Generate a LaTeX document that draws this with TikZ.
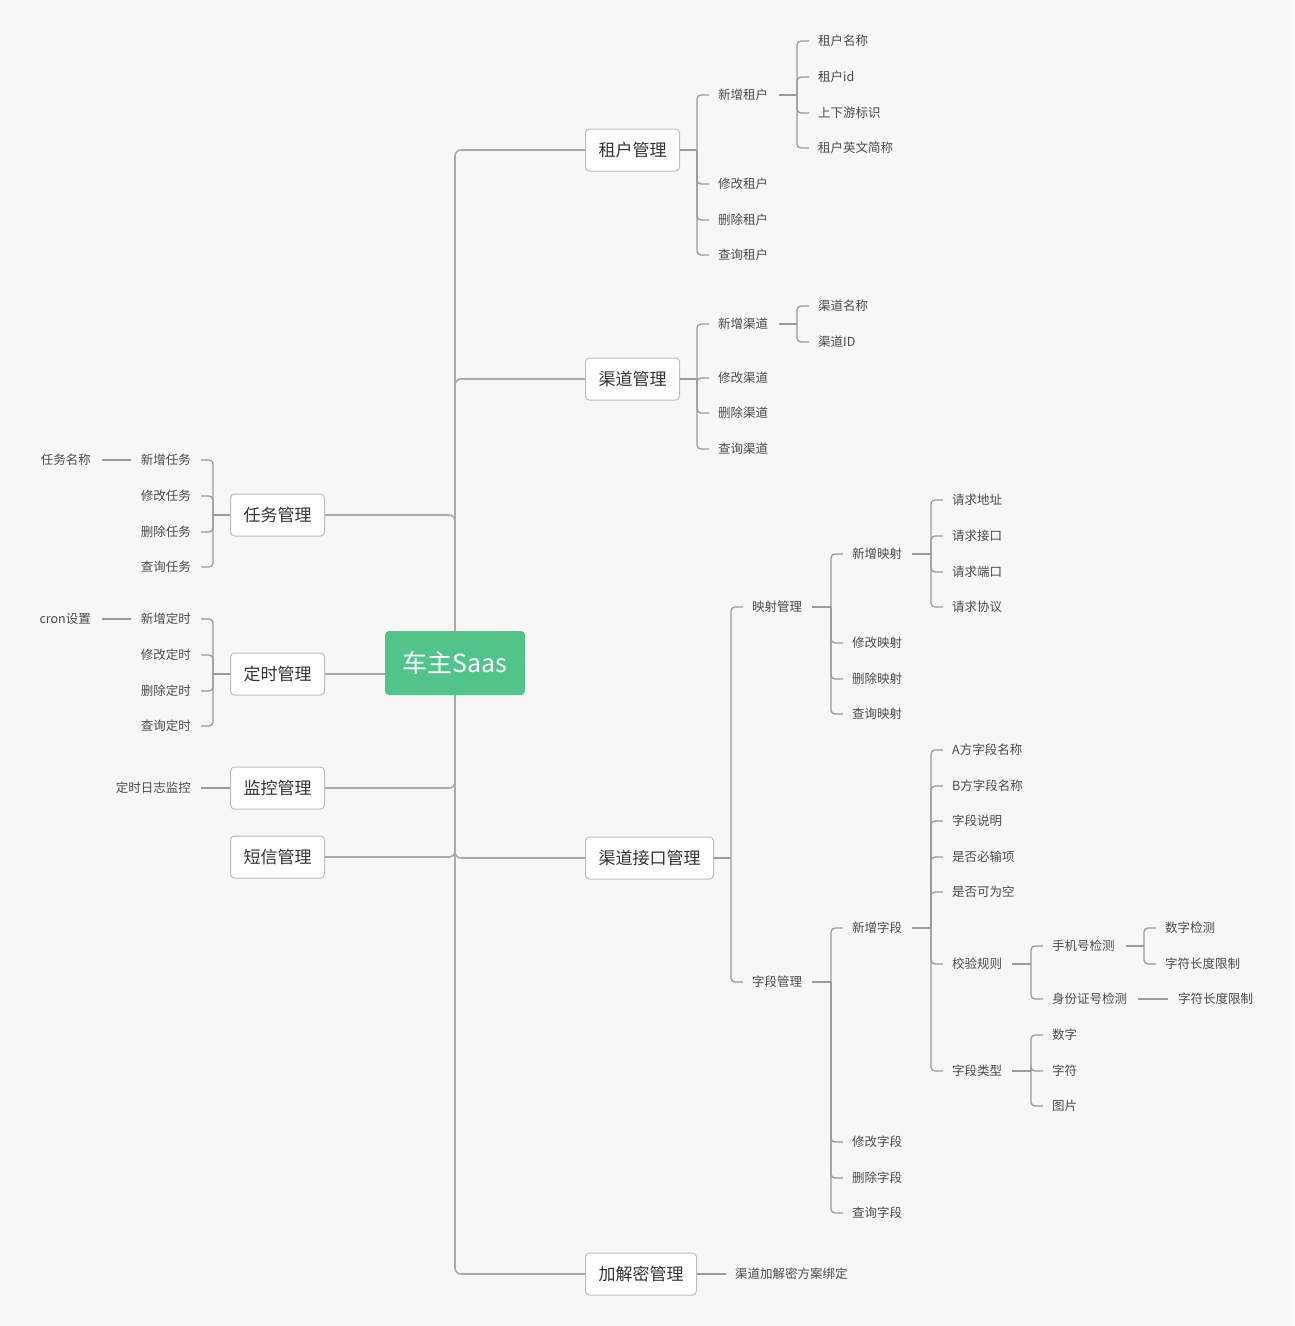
\documentclass[tikz,border=0pt]{standalone}
\usepackage{fontspec}
\setmainfont{Noto Sans CJK SC}
\usetikzlibrary{calc}
\definecolor{bgc}{HTML}{F7F7F7}
\definecolor{trunkc}{HTML}{AAAAAA}
\definecolor{linec}{HTML}{9A9A9A}
\definecolor{boxc}{HTML}{BEBEBE}
\definecolor{boxtext}{HTML}{333333}
\definecolor{leaftext}{HTML}{4A4A4A}
\definecolor{greenc}{HTML}{52C48B}
\newcommand\leaffont{\fontsize{12.5pt}{15pt}\selectfont}
\newcommand\boxfont{\fontsize{17pt}{20pt}\selectfont}
\newcommand\centerfont{\fontsize{25pt}{30pt}\selectfont}
% right bracket: #1 parent, #2 first child, #3 gap after parent, #4 children
\newcommand\brR[4]{%
  \coordinate (#1-b) at ($(#1.east -| #2.west)+(-21,0)$);
  \draw[conn] ([xshift=#3]#1.east) -- (#1-b);
  \foreach \cc in {#4} {\draw[conn] (#1-b) |- ([xshift=-9pt]\cc.west);}
}
% left bracket: #1 parent box, #2 first child, #3 children
\newcommand\brL[3]{%
  \coordinate (#1-b) at ($(#1.west -| #2.east)+(22,0)$);
  \draw[conn] (#1.west) -- (#1-b);
  \foreach \cc in {#3} {\draw[conn] (#1-b) |- ([xshift=10pt]\cc.east);}
}
\begin{document}
\begin{tikzpicture}[x=1pt,y=-1pt,
  conn/.style={draw=linec, line width=1.3pt, rounded corners=4pt},
  trunk/.style={draw=trunkc, line width=1.6pt, rounded corners=6pt},
  leaf/.style={inner sep=0pt, font=\leaffont, text=leaftext, anchor=west},
  leafl/.style={leaf, anchor=east},
  box/.style={draw=boxc, fill=white, rounded corners=4pt, line width=1pt,
    minimum height=42pt, inner xsep=13pt, inner ysep=0pt, font=\boxfont, text=boxtext},
  centerbox/.style={fill=greenc, rounded corners=4pt, minimum width=140pt,
    minimum height=64pt, font=\centerfont, text=white, inner sep=0pt}]
\fill[bgc] (0,0) rectangle (1294,1326);
\useasboundingbox (0,0) rectangle (1294,1326);

% center
\node[centerbox] (c) at (455,663) {车主Saas};

% level-1 boxes
\node[box, anchor=west] (zh) at (585,150) {租户管理};
\node[box, anchor=west] (qd) at (585,379) {渠道管理};
\node[box, anchor=west] (jk) at (585,858) {渠道接口管理};
\node[box, anchor=west] (jjm) at (585,1274) {加解密管理};
\node[box, anchor=east] (rw) at (325,515) {任务管理};
\node[box, anchor=east] (ds) at (325,674) {定时管理};
\node[box, anchor=east] (jkgl) at (325,788) {监控管理};
\node[box, anchor=east] (dx) at (325,857) {短信管理};

% trunk connectors
\draw[trunk] (c.north) |- (zh.west);
\draw[trunk] (c.north) |- (qd.west);
\draw[trunk] (c.south) |- (jk.west);
\draw[trunk] (c.south) |- (jjm.west);
\draw[trunk] (c.north) |- (rw.east);
\draw[trunk] (ds.east) -- (ds.east -| c.west);
\draw[trunk] (c.south) |- (jkgl.east);
\draw[trunk] (c.south) |- (dx.east);

% 租户管理
\node[leaf] (a1) at (718,95) {新增租户};
\node[leaf] (a2) at (718,184) {修改租户};
\node[leaf] (a3) at (718,220) {删除租户};
\node[leaf] (a4) at (718,255) {查询租户};
\node[leaf] (a11) at (818,41) {租户名称};
\node[leaf] (a12) at (818,77) {租户id};
\node[leaf] (a13) at (818,113) {上下游标识};
\node[leaf] (a14) at (818,148) {租户英文简称};
\brR{zh}{a1}{0pt}{a1,a2,a3,a4}
\brR{a1}{a11}{11pt}{a11,a12,a13,a14}

% 渠道管理
\node[leaf] (b1) at (718,324) {新增渠道};
\node[leaf] (b2) at (718,378) {修改渠道};
\node[leaf] (b3) at (718,413) {删除渠道};
\node[leaf] (b4) at (718,449) {查询渠道};
\node[leaf] (b11) at (818,306) {渠道名称};
\node[leaf] (b12) at (818,342) {渠道ID};
\brR{qd}{b1}{0pt}{b1,b2,b3,b4}
\brR{b1}{b11}{11pt}{b11,b12}

% 渠道接口管理
\node[leaf] (k1) at (752,607) {映射管理};
\node[leaf] (k2) at (752,982) {字段管理};
\brR{jk}{k1}{0pt}{k1,k2}

\node[leaf] (k11) at (852,554) {新增映射};
\node[leaf] (k12) at (852,643) {修改映射};
\node[leaf] (k13) at (852,679) {删除映射};
\node[leaf] (k14) at (852,714) {查询映射};
\brR{k1}{k11}{10pt}{k11,k12,k13,k14}

\node[leaf] (k111) at (952,500) {请求地址};
\node[leaf] (k112) at (952,536) {请求接口};
\node[leaf] (k113) at (952,572) {请求端口};
\node[leaf] (k114) at (952,607) {请求协议};
\brR{k11}{k111}{10pt}{k111,k112,k113,k114}

\node[leaf] (k21) at (852,928) {新增字段};
\node[leaf] (k22) at (852,1142) {修改字段};
\node[leaf] (k23) at (852,1178) {删除字段};
\node[leaf] (k24) at (852,1213) {查询字段};
\brR{k2}{k21}{10pt}{k21,k22,k23,k24}

\node[leaf] (f1) at (952,750) {A方字段名称};
\node[leaf] (f2) at (952,786) {B方字段名称};
\node[leaf] (f3) at (952,821) {字段说明};
\node[leaf] (f4) at (952,857) {是否必输项};
\node[leaf] (f5) at (952,892) {是否可为空};
\node[leaf] (f6) at (952,964) {校验规则};
\node[leaf] (f7) at (952,1071) {字段类型};
\brR{k21}{f1}{10pt}{f1,f2,f3,f4,f5,f6,f7}

\node[leaf] (v1) at (1052,946) {手机号检测};
\node[leaf] (v2) at (1052,999) {身份证号检测};
\brR{f6}{v1}{10pt}{v1,v2}

\node[leaf] (m1) at (1165,928) {数字检测};
\node[leaf] (m2) at (1165,964) {字符长度限制};
\brR{v1}{m1}{11pt}{m1,m2}

\node[leaf] (s1) at (1178,999) {字符长度限制};
\draw[conn] ([xshift=11pt]v2.east) -- ([xshift=-10pt]s1.west);

\node[leaf] (t1) at (1052,1035) {数字};
\node[leaf] (t2) at (1052,1071) {字符};
\node[leaf] (t3) at (1052,1106) {图片};
\brR{f7}{t1}{10pt}{t1,t2,t3}

% 加解密管理
\node[leaf] (d1) at (735,1274) {渠道加解密方案绑定};
\draw[conn] (jjm.east) -- ([xshift=-9pt]d1.west);

% 任务管理
\node[leafl] (e1) at (191,460) {新增任务};
\node[leafl] (e2) at (191,496) {修改任务};
\node[leafl] (e3) at (191,532) {删除任务};
\node[leafl] (e4) at (191,567) {查询任务};
\brL{rw}{e1}{e1,e2,e3,e4}
\node[leafl] (e11) at (91,460) {任务名称};
\draw[conn] ([xshift=-10pt]e1.west) -- ([xshift=11pt]e11.east);

% 定时管理
\node[leafl] (g1) at (191,619) {新增定时};
\node[leafl] (g2) at (191,655) {修改定时};
\node[leafl] (g3) at (191,691) {删除定时};
\node[leafl] (g4) at (191,726) {查询定时};
\brL{ds}{g1}{g1,g2,g3,g4}
\node[leafl] (g11) at (91,619) {cron设置};
\draw[conn] ([xshift=-10pt]g1.west) -- ([xshift=11pt]g11.east);

% 监控管理
\node[leafl] (h1) at (191,788) {定时日志监控};
\draw[conn] (jkgl.west) -- ([xshift=10pt]h1.east);
\end{tikzpicture}
\end{document}
